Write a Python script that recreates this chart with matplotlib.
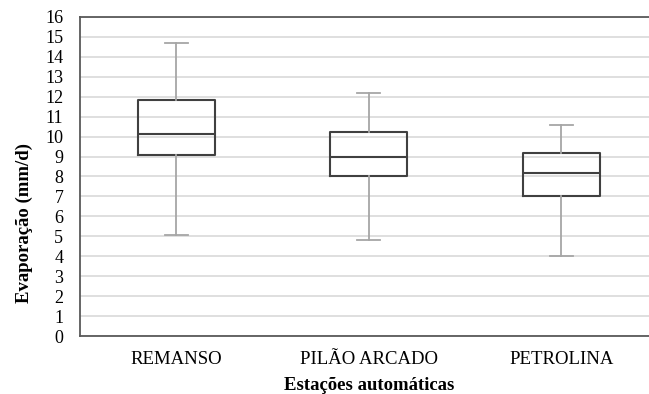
import numpy as np
import matplotlib
matplotlib.use("Agg")
import matplotlib.pyplot as plt

# Data
stations = ["REMANSO", "PILÃO ARCADO", "PETROLINA"]
whisker_low = [5.08, 4.83, 4.02]
q1 = [9.06, 8.00, 7.03]
median = [10.11, 8.96, 8.18]
q3 = [11.82, 10.21, 9.16]
whisker_high = [14.69, 12.18, 10.60]

plt.rcParams['font.family'] = ['Liberation Serif', 'DejaVu Serif']

fig = plt.figure(figsize=(6.49, 3.94), dpi=100)
ax = fig.add_axes([0.1233, 0.1472, 0.89, 0.8097])

stats = []
for i, name in enumerate(stations):
    stats.append({
        "label": name,
        "whislo": whisker_low[i],
        "q1": q1[i],
        "med": median[i],
        "q3": q3[i],
        "whishi": whisker_high[i],
        "fliers": [],
    })

ax.bxp(stats, positions=[1, 2, 3], widths=0.4, showfliers=False,
       boxprops=dict(color="#404040", linewidth=1.5),
       medianprops=dict(color="#404040", linewidth=1.5),
       whiskerprops=dict(color="#a6a6a6", linewidth=1.3),
       capprops=dict(color="#a6a6a6", linewidth=1.3),
       capwidths=0.12)

ax.set_xlim(0.5, 3.5)
ax.set_ylim(0, 16)
ax.set_yticks(np.arange(0, 17, 1))
ax.yaxis.grid(True, color="#d9d9d9", linewidth=1.2)
ax.set_axisbelow(True)

for side in ["left", "bottom", "top"]:
    ax.spines[side].set_color("#595959")
    ax.spines[side].set_linewidth(1.3)
ax.spines["right"].set_visible(False)

ax.tick_params(axis="y", length=0, labelsize=13, colors="black", pad=12)
ax.tick_params(axis="x", length=0, labelsize=13.5, colors="black", pad=11)

ax.set_ylabel("Evaporação (mm/d)", fontsize=13.5, fontweight="bold")
ax.yaxis.set_label_coords(-0.081, 0.354)
ax.set_xlabel("Estações automáticas", fontsize=13.5, fontweight="bold")
ax.xaxis.set_label_coords(0.5, -0.128)

fig.savefig("out.png", dpi=100)
